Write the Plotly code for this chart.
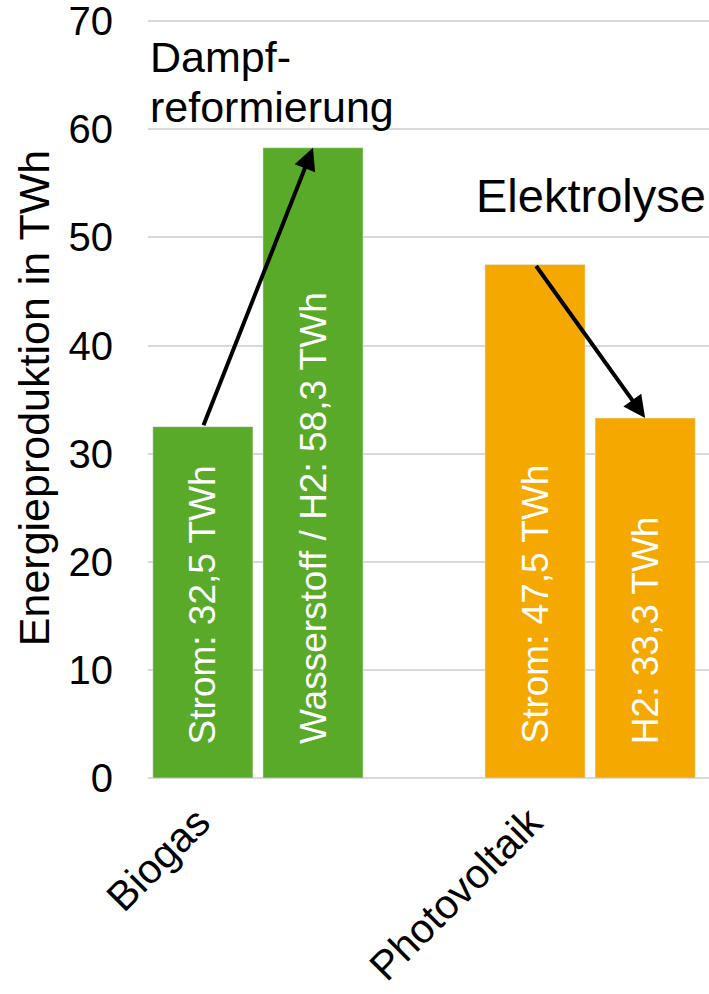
import plotly.graph_objects as go

# Energy output per source: electricity and the hydrogen route derived from it
categories = ["Biogas", "Photovoltaik"]
strom_values = [32.5, 47.5]
h2_values = [58.3, 33.3]
strom_labels = ["Strom", "Strom"]
h2_labels = ["Wasserstoff / H2", "H2"]
process_lines = [["Dampf-", "reformierung"], ["Elektrolyse"]]
bar_colors = ["#5AAA2A", "#F5A800"]

y_ticks = [0, 10, 20, 30, 40, 50, 60, 70]

FONT = "Arial, Liberation Sans, sans-serif"
BAR_OFFSET = 0.1657  # half distance between the two bars of a group, in category units

W, H = 709, 994
M_L, M_R, M_T, M_B = 148, 0, 18, 216


def px_to_paper(px, py):
    """Figure pixel position -> paper coordinates of the plot area."""
    return ((px - M_L) / (W - M_L - M_R), (H - M_B - py) / (H - M_T - M_B))


fig = go.Figure()
fig.add_trace(go.Bar(x=[0, 1], y=strom_values, marker_color=bar_colors,
                     name="Strom", showlegend=False))
fig.add_trace(go.Bar(x=[0, 1], y=h2_values, marker_color=bar_colors,
                     name="H2", showlegend=False))


def fmt(v):
    return f"{v:.1f}".replace(".", ",")


# value labels written upright inside each bar
for i in range(len(categories)):
    for sign, lab, val in ((-1, strom_labels[i], strom_values[i]),
                           (1, h2_labels[i], h2_values[i])):
        fig.add_annotation(x=i + sign * BAR_OFFSET, y=0, xref="x", yref="y",
                           text=f"{lab}: {fmt(val)} TWh", textangle=-90,
                           showarrow=False, yanchor="bottom", yshift=32,
                           font=dict(family=FONT, size=37, color="white"))

# conversion arrows from the electricity bar top to the product bar top
for i in range(len(categories)):
    fig.add_annotation(x=i + BAR_OFFSET, y=h2_values[i],
                       ax=i - BAR_OFFSET, ay=strom_values[i],
                       xref="x", yref="y", axref="x", ayref="y", text="",
                       showarrow=True, arrowhead=2, arrowsize=1.1, arrowwidth=4,
                       arrowcolor="black", standoff=0, startstandoff=0)

# process names
for line, py in zip(process_lines[0], (57, 107)):
    ax_, ay_ = px_to_paper(149, py)
    fig.add_annotation(x=ax_, y=ay_, xref="paper", yref="paper",
                       text=line, showarrow=False, xanchor="left", yanchor="middle",
                       borderpad=0, font=dict(family=FONT, size=43, color="black"))
fig.add_annotation(x=0.651, y=53.9, xref="x", yref="y", text=process_lines[1][0],
                   showarrow=False, xanchor="left", yanchor="middle",
                   font=dict(family=FONT, size=47, color="black"))

fig.update_layout(
    width=W, height=H,
    margin=dict(l=M_L, r=M_R, t=M_T, b=M_B),
    plot_bgcolor="white", paper_bgcolor="white",
    barmode="group", bargap=0.337, bargroupgap=0.091,
    font=dict(family=FONT, color="black"),
)
fig.update_xaxes(
    range=[-0.331, 1.358], tickmode="array", tickvals=[0, 1], ticktext=categories,
    tickangle=-45, tickfont=dict(family=FONT, size=41),
    showgrid=False, zeroline=False, showline=False, ticks="",
    ticklabelshift=-60, ticklabelstandoff=11, automargin=False,
)
fig.update_yaxes(
    range=[0, 70.3], tickmode="array", tickvals=y_ticks,
    tickfont=dict(family=FONT, size=40), ticklabeloverflow="allow",
    showgrid=True, gridcolor="#D9D9D9", gridwidth=2,
    zeroline=True, zerolinecolor="#D9D9D9", zerolinewidth=2,
    showline=False, ticks="", ticklabelstandoff=34, automargin=False,
    title=dict(text="Energieproduktion in TWh", font=dict(family=FONT, size=43), standoff=5),
)

fig.write_html("out.html")
